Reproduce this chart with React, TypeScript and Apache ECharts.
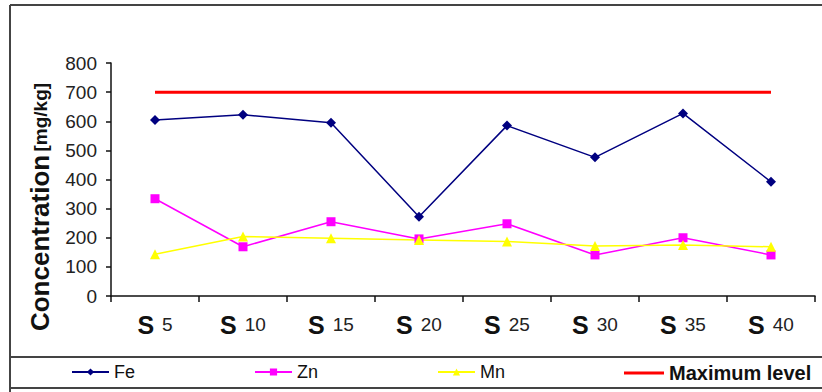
import React, { useEffect, useRef } from "react";
import * as echarts from "echarts";

// Sampling points along the transect
const categories = ["S 5", "S 10", "S 15", "S 20", "S 25", "S 30", "S 35", "S 40"];

// Heavy metal concentrations [mg/kg]
const feValues = [604, 622, 595, 272, 585, 476, 627, 392];
const znValues = [334, 169, 255, 196, 248, 141, 200, 141];
const mnValues = [143, 204, 198, 192, 187, 172, 175, 169];
const maxLevel = [700, 700, 700, 700, 700, 700, 700, 700];

const yTicks = { min: 0, max: 800, interval: 100 };

const FONT = "'Liberation Sans', Arial, sans-serif";

export default function App() {
  const ref = useRef<HTMLDivElement>(null);

  useEffect(() => {
    if (!ref.current) return;
    const chart = echarts.init(ref.current, null, { renderer: "svg" });

    const legendBase = {
      top: 363,
      padding: 0,
      itemWidth: 37,
      itemHeight: 9,
      itemGap: 0,
      textStyle: { fontFamily: FONT, fontSize: 18, color: "#111" },
    };

    chart.setOption({
      animation: false,
      backgroundColor: "#ffffff",
      textStyle: { fontFamily: FONT },
      grid: { left: 111, top: 63, right: 7, bottom: 96, containLabel: false },
      xAxis: {
        type: "category",
        data: categories,
        boundaryGap: true,
        axisLine: { lineStyle: { color: "#111", width: 1.5 } },
        axisTick: { show: true, length: 6, lineStyle: { color: "#111", width: 1.5 } },
        axisLabel: {
          margin: 16,
          formatter: (v: string) => {
            const [s, n] = v.split(" ");
            return `{s|${s}}{n|${n}}`;
          },
          rich: {
            s: { fontFamily: FONT, fontWeight: "bold", fontSize: 25, color: "#111", padding: [0, 8, 0, 0] },
            n: { fontFamily: FONT, fontSize: 19, color: "#222" },
          },
        },
      },
      yAxis: {
        type: "value",
        min: yTicks.min,
        max: yTicks.max,
        interval: yTicks.interval,
        splitLine: { show: false },
        axisLine: { show: true, lineStyle: { color: "#111", width: 1.5 } },
        axisTick: { show: true, length: 5, lineStyle: { color: "#111", width: 1.5 } },
        axisLabel: { margin: 14, fontFamily: FONT, fontSize: 19, color: "#222" },
      },
      legend: [
        { ...legendBase, left: 71, data: ["Fe"] },
        { ...legendBase, left: 254, data: ["Zn"] },
        { ...legendBase, left: 437, data: ["Mn"] },
        {
          ...legendBase,
          left: 624,
          itemWidth: 40,
          itemHeight: 3,
          data: [{ name: "Maximum level", icon: "rect" }],
          textStyle: { fontFamily: FONT, fontSize: 20, fontWeight: "bold", color: "#111" },
        },
      ],
      graphic: [
        {
          type: "text",
          x: 40,
          y: 207,
          rotation: Math.PI / 2,
          style: {
            text: "{a|Concentration} {b|[mg/kg]}",
            align: "center",
            verticalAlign: "middle",
            rich: {
              a: { fontFamily: FONT, fontWeight: "bold", fontSize: 26, fill: "#111" },
              b: { fontFamily: FONT, fontWeight: "bold", fontSize: 19, fill: "#111" },
            },
          },
        },
        { type: "line", shape: { x1: 10, y1: 5, x2: 822, y2: 5 }, style: { stroke: "#444", lineWidth: 2 } },
        { type: "line", shape: { x1: 10, y1: 5, x2: 10, y2: 392 }, style: { stroke: "#444", lineWidth: 2 } },
        { type: "line", shape: { x1: 10, y1: 357, x2: 822, y2: 357 }, style: { stroke: "#444", lineWidth: 2 } },
        { type: "line", shape: { x1: 10, y1: 388, x2: 822, y2: 388 }, style: { stroke: "#444", lineWidth: 2 } },
      ],
      series: [
        {
          name: "Fe",
          type: "line",
          data: feValues,
          symbol: "diamond",
          symbolSize: 10,
          lineStyle: { color: "#000080", width: 1.5 },
          itemStyle: { color: "#000080" },
        },
        {
          name: "Zn",
          type: "line",
          data: znValues,
          symbol: "rect",
          symbolSize: 9,
          lineStyle: { color: "#ff00ff", width: 1.5 },
          itemStyle: { color: "#ff00ff" },
        },
        {
          name: "Mn",
          type: "line",
          data: mnValues,
          symbol: "triangle",
          symbolSize: 10,
          lineStyle: { color: "#ffff00", width: 1.5 },
          itemStyle: { color: "#ffff00" },
        },
        {
          name: "Maximum level",
          type: "line",
          data: maxLevel,
          symbol: "none",
          lineStyle: { color: "#ff0000", width: 3 },
          itemStyle: { color: "#ff0000" },
        },
      ],
    });

    return () => chart.dispose();
  }, []);

  return (
    <div
      ref={ref}
      style={{ position: "absolute", left: 0, top: 0, width: 822, height: 392, background: "#fff" }}
    />
  );
}
